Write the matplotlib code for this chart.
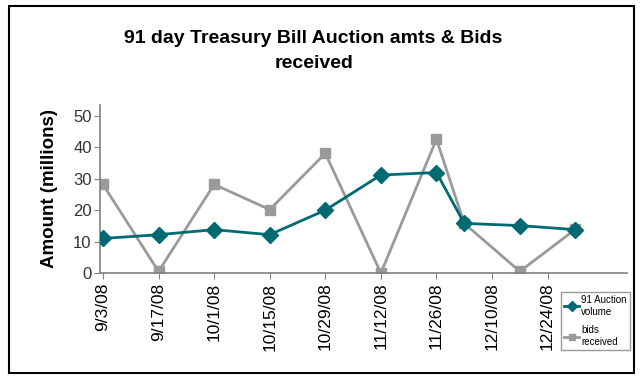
import datetime as dt
import matplotlib
matplotlib.use("Agg")
import matplotlib.pyplot as plt
from matplotlib.patches import Rectangle

plt.rcParams['font.family'] = ['Liberation Sans', 'DejaVu Sans']

# auction dates (every 14 days, then weekly offsets at the end)
dates = [dt.date(2008, 9, 3), dt.date(2008, 9, 17), dt.date(2008, 10, 1),
         dt.date(2008, 10, 15), dt.date(2008, 10, 29), dt.date(2008, 11, 12),
         dt.date(2008, 11, 26), dt.date(2008, 12, 3), dt.date(2008, 12, 17),
         dt.date(2008, 12, 31)]
auction_volume = [11, 12.2, 13.8, 12.2, 20, 31.2, 32, 15.8, 15.1, 13.8]
bids_received = [28.2, 0.5, 28.2, 20.2, 38.1, 0, 42.6, 15.8, 0.5, 13.9]

tick_dates = [dt.date(2008, 9, 3) + dt.timedelta(days=14 * i) for i in range(9)]
tick_labels = [f"{d.month}/{d.day}/{d:%y}" for d in tick_dates]

teal = "#006a72"
grey = "#9a9a9a"

fig = plt.figure(figsize=(6.4, 3.76), dpi=100)
ax = fig.add_axes([100 / 640, 1 - 273 / 376, 527 / 640, 168 / 376])

ax.plot(dates, bids_received, color=grey, lw=2, marker="s", ms=6.5,
        label="bids\nreceived", zorder=2)
ax.plot(dates, auction_volume, color=teal, lw=2, marker="D", ms=8,
        label="91 Auction\nvolume", zorder=3)

ax.set_xlim(dt.datetime(2008, 9, 2, 6), dt.date(2009, 1, 13))
ax.set_ylim(0, 53.5)
ax.set_yticks([0, 10, 20, 30, 40, 50])
ax.set_xticks(tick_dates)
ax.set_xticklabels(tick_labels, rotation=90, fontsize=12.5)
ax.tick_params(axis="y", labelsize=12, labelcolor="#333333", color="#808080",
               length=4, pad=2)
ax.tick_params(axis="x", color="#808080", length=4, pad=3)

for s in ["top", "right"]:
    ax.spines[s].set_visible(False)
for s in ["left", "bottom"]:
    ax.spines[s].set_color("#808080")
    ax.spines[s].set_linewidth(1.2)

ax.set_ylabel("Amount (millions)", fontsize=13.5, fontweight="bold", labelpad=11)

h, l = ax.get_legend_handles_labels()
leg = fig.legend(h[::-1], l[::-1], loc="upper left",
                 bbox_to_anchor=(561 / 640, 1 - 292 / 376), fontsize=7,
                 frameon=True, fancybox=False, edgecolor="#808080",
                 handlelength=1.6, handletextpad=0.2, borderpad=0.3,
                 labelspacing=0.9, markerscale=0.7, borderaxespad=0)
leg.get_frame().set_linewidth(1)

fig.text(0.49, 1 - 51 / 376, "91 day Treasury Bill Auction amts & Bids\nreceived",
         ha="center", va="center", fontsize=14, fontweight="bold",
         linespacing=1.6)

fig.patches.append(Rectangle((9 / 640, 1 - 373 / 376), 625 / 640, 367 / 376,
                             transform=fig.transFigure, fill=False,
                             edgecolor="black", lw=1.5))

fig.savefig("out.png", dpi=100)
